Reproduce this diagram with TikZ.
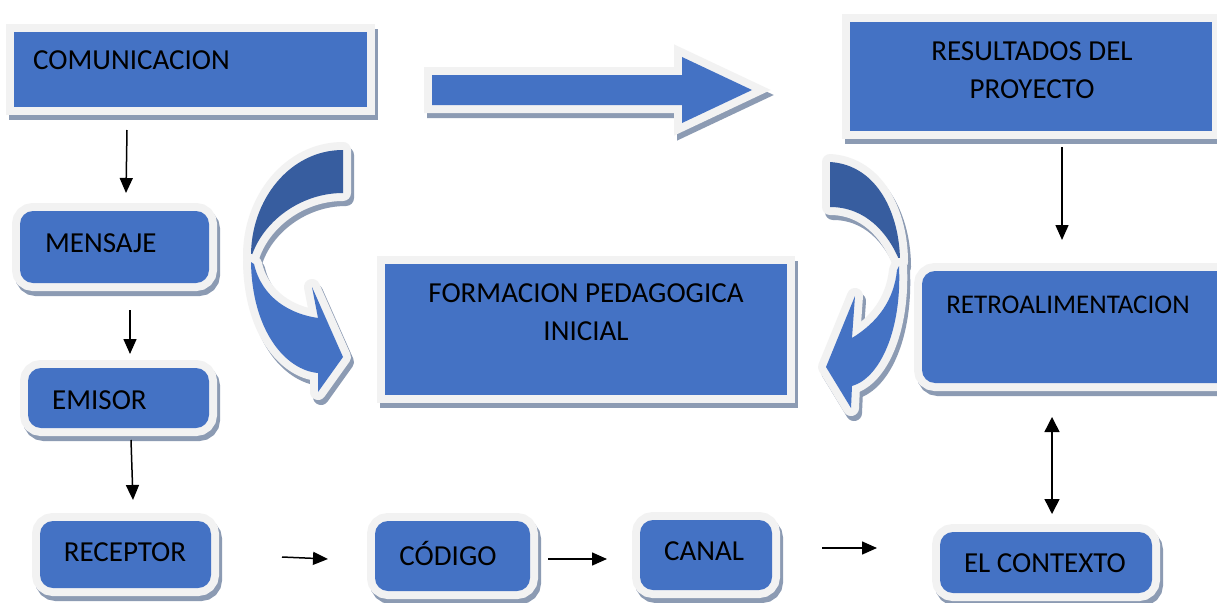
\documentclass[tikz,border=0pt]{standalone}
\usepackage{fontspec}
\setmainfont{Carlito}
\usetikzlibrary{arrows.meta}
\definecolor{bfill}{HTML}{4472C4}
\definecolor{bdark}{HTML}{375D9F}
\definecolor{frame}{HTML}{F2F2F2}
\definecolor{shad}{HTML}{8C9BB3}
\tikzset{
  shaped/.style={
    preaction={draw=shad, fill=shad, line width=16pt, transform canvas={xshift=3pt,yshift=-5pt}},
    preaction={draw=frame, fill=frame, line width=16pt},
    fill=bfill, draw=none, inner sep=0pt, outer sep=0pt},
  cshaped/.style={
    preaction={draw=shad, fill=shad, line width=16pt, line join=round, transform canvas={xshift=3pt,yshift=-5pt}},
    preaction={draw=frame, fill=frame, line width=16pt, line join=round},
    fill=bfill, draw=none},
  sqbox/.style={shaped, rectangle},
  rdbox/.style={shaped, rectangle, rounded corners=13pt},
  lbl/.style={font=\fontsize{29}{38}\selectfont, inner sep=0pt, align=center, text=black},
  conn/.style={line width=1.5pt, -{Triangle[length=15pt,width=13pt]}},
  dconn/.style={line width=1.5pt, {Triangle[length=15pt,width=15pt]}-{Triangle[length=15pt,width=15pt]}}
}
\begin{document}
\begin{tikzpicture}[x=1pt,y=-1pt]
\useasboundingbox[fill=white] (0,0) rectangle (1217,602);

% boxes
\node[sqbox, minimum width=353pt, minimum height=75pt] (comu) at (190.5,69.5) {};
\node[sqbox, minimum width=362pt, minimum height=109pt] (resu) at (1031,76.5) {};
\node[sqbox, minimum width=402pt, minimum height=131pt] (form) at (586,329.5) {};
\node[rdbox, minimum width=189pt, minimum height=72pt] (mens) at (114.5,247) {};
\node[rdbox, minimum width=181pt, minimum height=60pt] (emis) at (118.5,398) {};
\node[rdbox, minimum width=171pt, minimum height=67pt] (rece) at (125.5,554.5) {};
\node[rdbox, minimum width=155pt, minimum height=70pt] (codi) at (452.5,556) {};
\node[rdbox, minimum width=132pt, minimum height=70pt] (cana) at (706,555) {};
\node[rdbox, minimum width=212pt, minimum height=61pt] (cont) at (1046,562.5) {};
\node[rdbox, minimum width=310pt, minimum height=112pt] (retr) at (1077,327) {};

% big straight arrow
\path[shaped] (432,75) -- (682,75) -- (682,57) -- (752,90) -- (682,123) -- (682,105) -- (432,105) -- cycle;

% left curved arrow
\path[cshaped, fill=bdark] (343,150) .. controls (290,150) and (250,200) .. (251,258)
  .. controls (262,222) and (300,193) .. (343,193) -- cycle;
\path[cshaped] (251,262) .. controls (252,330) and (285,370) .. (318,373) -- (318,392) -- (343,357)
  -- (312,287) -- (318,318) .. controls (290,314) and (262,298) .. (254,264) -- cycle;

% right curved arrow
\path[cshaped, fill=bdark] (830,162) .. controls (878,165) and (900,215) .. (900,262)
  .. controls (888,232) and (865,207) .. (830,207) -- cycle;
\path[cshaped] (899,266) .. controls (902,330) and (880,378) .. (852,386) -- (851,408) -- (826,367)
  -- (855,296) -- (852,338) .. controls (878,322) and (894,300) .. (897,270) -- cycle;

% labels
\node[lbl, anchor=west] (tcomu) at (33,60) {COMUNICACION};
\node[lbl] (tresu) at (1032,70.5) {RESULTADOS DEL\\PROYECTO};
\node[lbl] (tform) at (586,312) {FORMACION PEDAGOGICA\\INICIAL};
\node[lbl, anchor=west] (tmens) at (45,243) {MENSAJE};
\node[lbl, anchor=west] (temis) at (52,400) {EMISOR};
\node[lbl] (trece) at (125,552) {RECEPTOR};
\node[lbl] (tcodi) at (448,553) {CÓDIGO};
\node[lbl] (tcana) at (704,551) {CANAL};
\node[lbl] (tcont) at (1045,563) {EL CONTEXTO};
\node[lbl, font=\fontsize{27}{36}\selectfont] (tretr) at (1068,305) {RETROALIMENTACION};

% connector ends
\coordinate (a1s) at (127,130); \coordinate (a1e) at (126,193);
\coordinate (a2s) at (130,310); \coordinate (a2e) at (130,354);
\coordinate (a3s) at (131,440); \coordinate (a3e) at (133,500);
\coordinate (a4s) at (282,557); \coordinate (a4e) at (328,559);
\coordinate (a5s) at (548,559); \coordinate (a5e) at (607,559);
\coordinate (a6s) at (822,548); \coordinate (a6e) at (877,548);
\coordinate (a7s) at (1062,147); \coordinate (a7e) at (1062,240);
\coordinate (a8s) at (1052,417); \coordinate (a8e) at (1052,514);

\draw[conn] (a1s) -- (a1e);
\draw[conn] (a2s) -- (a2e);
\draw[conn] (a3s) -- (a3e);
\draw[conn] (a4s) -- (a4e);
\draw[conn] (a5s) -- (a5e);
\draw[conn] (a6s) -- (a6e);
\draw[conn] (a7s) -- (a7e);
\draw[dconn] (a8s) -- (a8e);
\end{tikzpicture}
\end{document}
